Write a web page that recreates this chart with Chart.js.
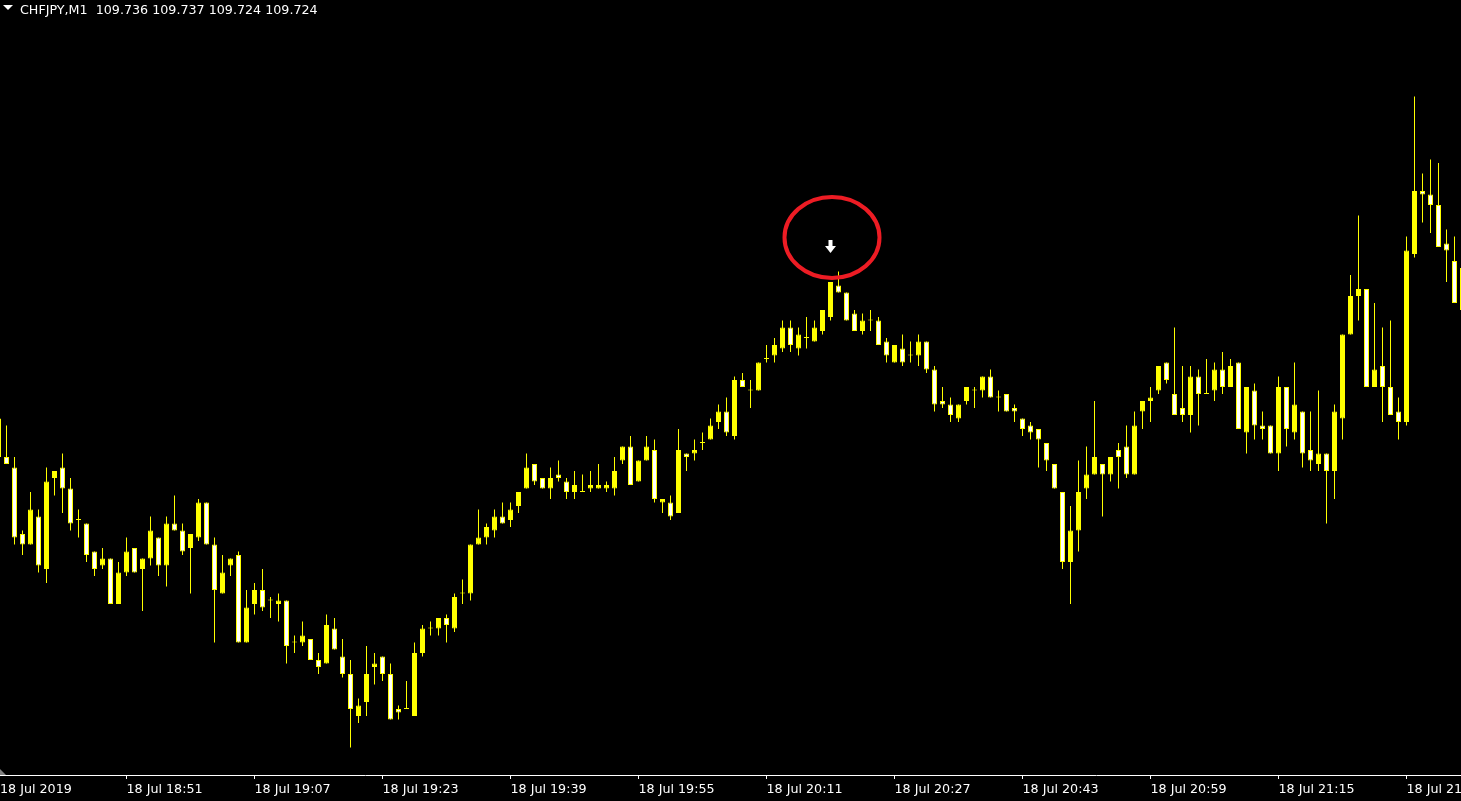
<!DOCTYPE html>
<html>
<head>
<meta charset="utf-8">
<title>CHFJPY,M1</title>
<script src="https://cdn.jsdelivr.net/npm/chart.js@4.4.1/dist/chart.umd.min.js"></script>
<style>
  html, body { margin: 0; padding: 0; background: #000; overflow: hidden; }
  #wrap { position: relative; width: 1461px; height: 801px; }
</style>
</head>
<body>
<div id="wrap"><canvas id="chartCandles"></canvas></div>
<script>
const symbol = "CHFJPY,M1";

// one-minute bars, 18:35 ... 21:38, 18 Jul 2019 (8 bars per row)
const opens = [
  109.693, 109.682, 109.679, 109.660, 109.657, 109.665, 109.650, 109.676,
  109.679, 109.673, 109.664, 109.663, 109.655, 109.651, 109.653, 109.640,
  109.649, 109.656, 109.650, 109.653, 109.659, 109.651, 109.663, 109.661,
  109.656, 109.659, 109.669, 109.657, 109.643, 109.651, 109.654, 109.629,
  109.640, 109.644, 109.641, 109.640, 109.641, 109.629, 109.629, 109.630,
  109.624, 109.623, 109.633, 109.625, 109.620, 109.608, 109.612, 109.622,
  109.625, 109.620, 109.610, 109.610, 109.608, 109.626, 109.633, 109.633,
  109.636, 109.633, 109.643, 109.643, 109.657, 109.659, 109.661, 109.665,
  109.664, 109.668, 109.673, 109.680, 109.676, 109.673, 109.677, 109.675,
  109.672, 109.672, 109.673, 109.673, 109.673, 109.673, 109.681, 109.685,
  109.675, 109.681, 109.684, 109.669, 109.669, 109.666, 109.683, 109.683,
  109.686, 109.687, 109.692, 109.695, 109.688, 109.704, 109.701, 109.701,
  109.710, 109.711, 109.713, 109.719, 109.713, 109.716, 109.715, 109.718,
  109.722, 109.731, 109.729, 109.723, 109.718, 109.721, 109.721, 109.715,
  109.709, 109.713, 109.711, 109.711, 109.715, 109.707, 109.698, 109.697,
  109.693, 109.698, 109.701, 109.701, 109.705, 109.699, 109.700, 109.696,
  109.693, 109.691, 109.690, 109.686, 109.680, 109.672, 109.652, 109.661,
  109.673, 109.677, 109.680, 109.677, 109.684, 109.685, 109.677, 109.695,
  109.698, 109.701, 109.709, 109.700, 109.696, 109.694, 109.705, 109.700,
  109.701, 109.707, 109.702, 109.709, 109.689, 109.701, 109.691, 109.691,
  109.683, 109.702, 109.689, 109.695, 109.684, 109.680, 109.683, 109.678,
  109.693, 109.717, 109.728, 109.730, 109.702, 109.708, 109.702, 109.695,
  109.692, 109.740, 109.758, 109.757, 109.754, 109.743, 109.738, 109.736
];
const highs = [
  109.694, 109.691, 109.682, 109.661, 109.672, 109.667, 109.679, 109.678,
  109.683, 109.676, 109.667, 109.663, 109.655, 109.656, 109.653, 109.652,
  109.659, 109.656, 109.653, 109.665, 109.659, 109.665, 109.671, 109.663,
  109.660, 109.670, 109.669, 109.659, 109.654, 109.653, 109.655, 109.644,
  109.646, 109.650, 109.642, 109.643, 109.641, 109.631, 109.635, 109.630,
  109.626, 109.637, 109.636, 109.630, 109.624, 109.613, 109.628, 109.626,
  109.625, 109.623, 109.611, 109.618, 109.629, 109.634, 109.635, 109.636,
  109.637, 109.643, 109.647, 109.657, 109.667, 109.663, 109.667, 109.669,
  109.669, 109.672, 109.683, 109.680, 109.676, 109.679, 109.681, 109.676,
  109.678, 109.677, 109.678, 109.680, 109.675, 109.682, 109.685, 109.688,
  109.681, 109.688, 109.687, 109.670, 109.671, 109.690, 109.683, 109.687,
  109.689, 109.693, 109.697, 109.699, 109.705, 109.706, 109.704, 109.709,
  109.714, 109.716, 109.721, 109.721, 109.719, 109.722, 109.721, 109.724,
  109.732, 109.735, 109.729, 109.724, 109.723, 109.724, 109.722, 109.716,
  109.714, 109.717, 109.715, 109.717, 109.715, 109.708, 109.702, 109.699,
  109.697, 109.702, 109.702, 109.705, 109.707, 109.701, 109.700, 109.697,
  109.693, 109.692, 109.690, 109.686, 109.680, 109.672, 109.668, 109.681,
  109.685, 109.698, 109.680, 109.682, 109.686, 109.691, 109.695, 109.698,
  109.702, 109.708, 109.709, 109.719, 109.708, 109.708, 109.707, 109.710,
  109.709, 109.712, 109.710, 109.709, 109.702, 109.703, 109.695, 109.691,
  109.705, 109.702, 109.709, 109.695, 109.695, 109.701, 109.683, 109.697,
  109.717, 109.734, 109.751, 109.730, 109.726, 109.719, 109.721, 109.699,
  109.745, 109.785, 109.763, 109.767, 109.766, 109.747, 109.745, 109.737
];
const lows = [
  109.681, 109.680, 109.657, 109.654, 109.657, 109.649, 109.646, 109.671,
  109.666, 109.661, 109.659, 109.652, 109.648, 109.650, 109.640, 109.640,
  109.648, 109.649, 109.638, 109.651, 109.648, 109.645, 109.661, 109.654,
  109.643, 109.658, 109.657, 109.629, 109.643, 109.648, 109.629, 109.629,
  109.637, 109.638, 109.636, 109.635, 109.623, 109.626, 109.628, 109.624,
  109.620, 109.623, 109.627, 109.619, 109.599, 109.606, 109.608, 109.617,
  109.618, 109.607, 109.607, 109.610, 109.608, 109.625, 109.631, 109.631,
  109.629, 109.632, 109.640, 109.641, 109.657, 109.657, 109.659, 109.663,
  109.662, 109.666, 109.673, 109.674, 109.673, 109.670, 109.675, 109.670,
  109.670, 109.672, 109.672, 109.673, 109.672, 109.671, 109.680, 109.674,
  109.675, 109.681, 109.669, 109.666, 109.664, 109.666, 109.678, 109.681,
  109.684, 109.687, 109.690, 109.688, 109.687, 109.702, 109.696, 109.701,
  109.709, 109.709, 109.712, 109.712, 109.711, 109.713, 109.715, 109.717,
  109.721, 109.729, 109.721, 109.718, 109.717, 109.718, 109.714, 109.709,
  109.709, 109.708, 109.709, 109.708, 109.706, 109.695, 109.696, 109.692,
  109.692, 109.697, 109.696, 109.699, 109.699, 109.695, 109.695, 109.692,
  109.688, 109.687, 109.679, 109.678, 109.673, 109.650, 109.640, 109.655,
  109.670, 109.677, 109.665, 109.675, 109.673, 109.676, 109.677, 109.690,
  109.692, 109.700, 109.703, 109.694, 109.692, 109.689, 109.691, 109.700,
  109.698, 109.700, 109.702, 109.690, 109.683, 109.687, 109.687, 109.683,
  109.678, 109.685, 109.687, 109.679, 109.678, 109.678, 109.663, 109.670,
  109.687, 109.717, 109.721, 109.702, 109.702, 109.692, 109.694, 109.687,
  109.691, 109.739, 109.749, 109.746, 109.742, 109.732, 109.726, 109.724
];
const closes = [
  109.682, 109.680, 109.659, 109.657, 109.667, 109.651, 109.675, 109.678,
  109.673, 109.663, 109.664, 109.654, 109.650, 109.653, 109.640, 109.649,
  109.655, 109.649, 109.653, 109.661, 109.651, 109.663, 109.661, 109.655,
  109.660, 109.669, 109.657, 109.644, 109.649, 109.653, 109.629, 109.639,
  109.644, 109.639, 109.641, 109.641, 109.628, 109.629, 109.631, 109.624,
  109.622, 109.634, 109.627, 109.620, 109.610, 109.611, 109.620, 109.623,
  109.620, 109.607, 109.609, 109.610, 109.626, 109.633, 109.633, 109.636,
  109.634, 109.642, 109.643, 109.657, 109.659, 109.662, 109.665, 109.663,
  109.667, 109.672, 109.679, 109.675, 109.673, 109.676, 109.676, 109.672,
  109.674, 109.672, 109.674, 109.674, 109.674, 109.678, 109.685, 109.674,
  109.681, 109.685, 109.670, 109.670, 109.665, 109.684, 109.682, 109.684,
  109.686, 109.691, 109.695, 109.689, 109.704, 109.702, 109.701, 109.709,
  109.710, 109.714, 109.719, 109.714, 109.717, 109.716, 109.719, 109.724,
  109.732, 109.729, 109.721, 109.718, 109.721, 109.721, 109.714, 109.711,
  109.714, 109.709, 109.711, 109.715, 109.707, 109.697, 109.697, 109.694,
  109.697, 109.702, 109.701, 109.705, 109.699, 109.699, 109.695, 109.695,
  109.690, 109.689, 109.687, 109.681, 109.673, 109.652, 109.661, 109.672,
  109.677, 109.682, 109.677, 109.682, 109.682, 109.677, 109.691, 109.698,
  109.699, 109.708, 109.704, 109.694, 109.694, 109.705, 109.700, 109.700,
  109.707, 109.702, 109.708, 109.690, 109.702, 109.691, 109.690, 109.683,
  109.702, 109.690, 109.697, 109.683, 109.681, 109.683, 109.678, 109.695,
  109.717, 109.728, 109.730, 109.702, 109.707, 109.702, 109.694, 109.692,
  109.741, 109.758, 109.757, 109.754, 109.742, 109.741, 109.726, 109.724
];

// time axis: bar numbers that carry a label, and the labels
const tickBars = [16, 32, 48, 64, 80, 96, 112, 128, 144, 160, 176];
const tickLabels = ["18 Jul 2019", "18 Jul 18:51", "18 Jul 19:07", "18 Jul 19:23", "18 Jul 19:39",
  "18 Jul 19:55", "18 Jul 20:11", "18 Jul 20:27", "18 Jul 20:43", "18 Jul 20:59",
  "18 Jul 21:15", "18 Jul 21:31"];

// sell arrow placed above the 20:19 bar
const arrowBar = 104;
const arrowPrice = 109.744;

const yellow = "#ffff00";
const white = "#ffffff";

const bodies = opens.map((o, i) => ({ x: i, y: [o, closes[i]] }));
const wicks = lows.map((l, i) => ({ x: i, y: [l, highs[i]] }));

const overlay = {
  id: "overlay",
  afterDraw(chart) {
    const ctx = chart.ctx;
    const xs = chart.scales.x, ys = chart.scales.y;
    ctx.save();

    // header: symbol + OHLC of the last bar
    const last = opens.length - 1;
    const hdr = symbol + "  " + [opens[last], highs[last], lows[last], closes[last]]
      .map(v => v.toFixed(3)).join(" ");
    ctx.fillStyle = white;
    ctx.beginPath();
    ctx.moveTo(3, 5); ctx.lineTo(13, 5); ctx.lineTo(8, 10);
    ctx.closePath(); ctx.fill();
    ctx.font = '12.7px "DejaVu Sans", sans-serif';
    ctx.textBaseline = "alphabetic";
    ctx.textAlign = "left";
    ctx.fillText(hdr, 20, 14);

    // small grey marker at the bottom-left corner
    ctx.fillStyle = "#808080";
    ctx.beginPath();
    ctx.moveTo(0, 769); ctx.lineTo(0, 775); ctx.lineTo(6, 775);
    ctx.closePath(); ctx.fill();

    // arrow + hand drawn red ring
    const ax = xs.getPixelForValue(arrowBar);
    const ay = ys.getPixelForValue(arrowPrice);
    ctx.strokeStyle = "#ed1c24";
    ctx.lineWidth = 4;
    ctx.beginPath();
    ctx.ellipse(ax + 1.5, ay - 2.5, 47.5, 40.5, 0, 0, Math.PI * 2);
    ctx.stroke();

    ctx.fillStyle = white;
    ctx.fillRect(ax - 2, ay, 4, 8);
    ctx.beginPath();
    ctx.moveTo(ax - 5.5, ay + 6); ctx.lineTo(ax + 5.5, ay + 6); ctx.lineTo(ax, ay + 13);
    ctx.closePath(); ctx.fill();

    ctx.restore();
  }
};

const config = {
  type: "bar",
  data: {
    datasets: [
      {
        label: "body",
        data: bodies,
        order: 0,
        grouped: false,
        barThickness: 5,
        minBarLength: 1,
        borderWidth: 1,
        borderSkipped: false,
        inflateAmount: 0,
        borderColor: yellow,
        backgroundColor: (c) => closes[c.dataIndex] < opens[c.dataIndex] ? white : yellow
      },
      {
        label: "wick",
        data: wicks,
        order: 1,
        grouped: false,
        barThickness: 1,
        minBarLength: 1,
        borderWidth: 0,
        inflateAmount: 0,
        backgroundColor: yellow
      }
    ]
  },
  options: {
    responsive: true,
    maintainAspectRatio: false,
    animation: false,
    events: [],
    layout: { padding: 0, autoPadding: false },
    plugins: { legend: { display: false }, tooltip: { enabled: false } },
    scales: {
      x: {
        type: "linear",
        bounds: "data",
        min: 0.1875,      // 8px per bar, bar 1 centred 6.5px from the left edge
        max: 182.8125,
        offset: false,
        afterBuildTicks(scale) {
          scale.ticks = [scale.min].concat(tickBars).map(v => ({ value: v }));
        },
        afterFit(scale) {
          scale.height = 26;
          scale.paddingLeft = 0;
          scale.paddingRight = 0;
        },
        ticks: {
          autoSkip: false,
          maxRotation: 0,
          minRotation: 0,
          align: "start",
          padding: 3,
          color: white,
          font: { family: '"DejaVu Sans", sans-serif', size: 12.7 },
          callback: (v, i) => tickLabels[i]
        },
        grid: {
          offset: false,
          drawOnChartArea: false,
          drawTicks: true,
          tickLength: 4,
          color: (c) => c.index === 0 ? "rgba(0,0,0,0)" : white
        },
        border: { display: true, color: white, width: 1 }
      },
      y: {
        type: "linear",
        display: false,
        bounds: "data",
        beginAtZero: false,
        min: 109.59114,
        max: 109.81257
      }
    }
  },
  plugins: [overlay]
};

const chartCandles = new Chart(document.getElementById("chartCandles"), config);
</script>
</body>
</html>
